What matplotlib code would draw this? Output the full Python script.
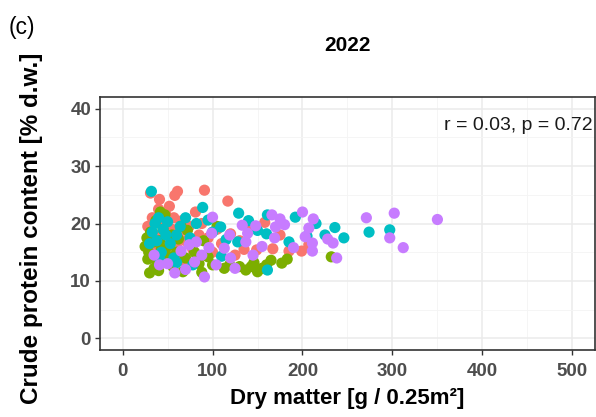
import matplotlib.pyplot as plt
import numpy as np

plt.rcParams['font.family'] = ['Liberation Sans', 'DejaVu Sans']

# dry matter (g / 0.25m2) and crude protein (% d.w.) per group
red_x = [31, 41, 48, 58, 61, 91, 81, 117, 158, 199, 149, 167, 207,
         28, 33, 36, 40, 44, 47, 52, 55, 57, 60, 63, 66, 70, 74, 78, 85, 88,
         95, 100, 105, 110, 125, 130, 135, 140, 38, 45, 62, 30, 50, 68, 120, 175, 185]
red_y = [25.3, 24.2, 21.6, 24.9, 25.6, 25.8, 22.0, 23.9, 20.2, 15.2, 15.4, 15.6, 16.3,
         19.5, 21.0, 18.0, 22.5, 20.0, 17.5, 23.0, 19.0, 21.0, 16.0, 18.5, 20.5, 17.0, 19.5, 15.5, 18.0, 20.0,
         17.5, 15.0, 19.0, 16.5, 14.5, 17.0, 15.5, 19.0, 15.5, 14.0, 14.5, 17.0, 16.0, 13.5, 18.2, 18.0, 15.2]

green_x = [30, 67, 113, 119, 137, 165, 177, 183, 232, 143, 150, 155, 160, 130, 146,
           25, 27, 29, 31, 33, 35, 37, 39, 41, 43, 45, 47, 49, 52, 55, 58, 60, 62, 65,
           70, 75, 80, 85, 90, 95, 100, 105, 35, 28, 42, 56, 72, 88, 40]
green_y = [11.4, 11.6, 12.2, 12.8, 11.9, 13.6, 13.1, 13.8, 14.2, 12.5, 11.6, 12.2, 12.8, 12.5, 13.2,
           16.0, 17.5, 15.0, 18.5, 14.0, 16.8, 20.5, 13.0, 17.0, 15.5, 19.0, 21.5, 14.5, 16.2, 18.0, 13.5, 15.0, 17.3, 19.5,
           14.0, 16.5, 15.0, 13.0, 17.0, 14.2, 12.8, 19.5, 12.2, 13.8, 22.0, 12.5, 18.8, 11.5, 11.8]

cyan_x = [32, 89, 129, 161, 192, 236, 246, 185, 160, 128, 161, 109, 95, 274, 297,
          30, 33, 36, 38, 40, 43, 45, 48, 50, 53, 57, 60, 64, 70, 75, 82, 100, 115,
          140, 150, 60, 42, 78, 110, 205, 215, 225]
cyan_y = [25.6, 22.8, 21.8, 21.5, 21.1, 19.3, 17.5, 16.8, 18.2, 16.8, 11.9, 19.4, 20.6, 18.5, 18.9,
          16.5, 18.5, 20.0, 17.0, 21.0, 15.0, 19.0, 18.0, 20.3, 16.5, 14.0, 18.0, 19.5, 21.0, 17.5, 20.0, 18.5, 17.2,
          20.5, 18.8, 13.2, 13.5, 12.8, 14.3, 17.8, 20.0, 18.0]

purple_x = [350, 302, 271, 297, 312, 200, 212, 207, 203, 211, 211, 228, 234, 238, 170, 169, 166,
            139, 133, 148, 119, 113, 137, 100, 99, 80, 91, 104, 58, 41, 74, 82, 88,
            35, 50, 65, 120, 155, 180, 190, 145, 125, 70, 96, 175]
purple_y = [20.7, 21.8, 21.0, 17.5, 15.8, 22.0, 20.8, 19.2, 17.7, 16.6, 15.2, 17.3, 16.6, 14.0, 19.4, 17.5, 21.5,
            18.3, 19.7, 19.6, 18.0, 15.7, 16.8, 21.1, 18.3, 13.3, 10.7, 12.8, 11.4, 12.8, 16.3, 16.8, 14.5,
            14.5, 13.0, 15.2, 14.0, 16.0, 19.8, 15.8, 14.5, 12.2, 12.0, 15.8, 20.8]

groups = [(red_x, red_y, '#F8766D'), (green_x, green_y, '#7CAE00'),
          (cyan_x, cyan_y, '#00BFC4'), (purple_x, purple_y, '#C77CFF')]

fig = plt.figure(figsize=(5.96, 4.17), dpi=100)
ax = fig.add_axes([0.168, 0.161, 0.83, 0.606])

for xs, ys, c in groups:
    ax.scatter(xs, ys, s=65, color=c, edgecolors='none', zorder=3)

ax.set_xlim(-25, 525)
ax.set_ylim(-2, 42)
ax.set_xticks([0, 100, 200, 300, 400, 500])
ax.set_yticks([0, 10, 20, 30, 40])
ax.set_xticks(np.arange(50, 501, 100), minor=True)
ax.set_yticks([5, 15, 25, 35], minor=True)
ax.grid(which='major', color='#EBEBEB', linewidth=1.1, zorder=0)
ax.grid(which='minor', color='#F4F4F4', linewidth=0.6, zorder=0)
ax.set_axisbelow(True)
ax.tick_params(which='minor', length=0)
ax.tick_params(which='major', length=3.5, width=1, color='#333333',
               labelsize=13.5, labelcolor='#4D4D4D', pad=3)
ax.tick_params(axis='x', pad=6)
for lab in ax.get_xticklabels() + ax.get_yticklabels():
    lab.set_fontweight('bold')
for sp in ax.spines.values():
    sp.set_color('#333333')
    sp.set_linewidth(1.2)

ax.set_xlabel('Dry matter [g / 0.25m²]', fontsize=16, fontweight='bold', labelpad=6)
ax.set_ylabel('Crude protein content [% d.w.]', fontsize=17.5, fontweight='bold', labelpad=3)
ax.yaxis.set_label_coords(-0.115, 0.48)
ax.set_title('2022', fontsize=15, fontweight='bold', pad=33)

ax.text(523, 37, 'r = 0.03, p = 0.72', ha='right', va='center', fontsize=14, color='#1a1a1a')
fig.text(0.015, 0.935, '(c)', fontsize=16.5, ha='left', va='center')

fig.savefig('out.png', dpi=100)
